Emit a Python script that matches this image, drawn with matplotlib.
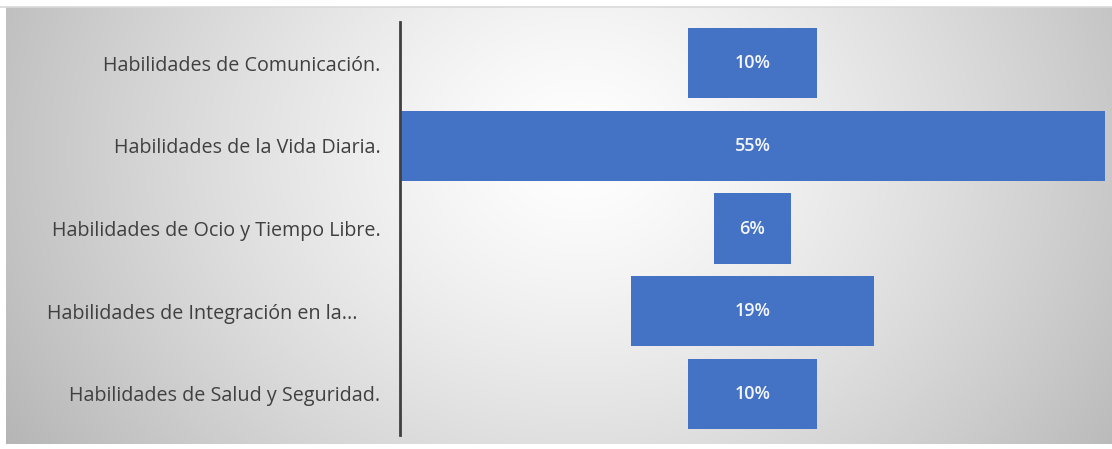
import numpy as np
import matplotlib
matplotlib.use("Agg")
import matplotlib.pyplot as plt
from matplotlib.transforms import ScaledTranslation

categories = ["Habilidades de Comunicación.",
              "Habilidades de la Vida Diaria.",
              "Habilidades de Ocio y Tiempo Libre.",
              "Habilidades de Integración en la...",
              "Habilidades de Salud y Seguridad."]
values = [10, 55, 6, 19, 10]
labels = ["10%", "55%", "6%", "19%", "10%"]

W, H = 1112, 449
fig = plt.figure(figsize=(W / 100, H / 100), dpi=100)
fig.patch.set_facecolor("white")

# background panel with radial gradient
bx0, bx1, by0, by1 = 6, 1112, 7, 444
bg = fig.add_axes([bx0 / W, 1 - by1 / H, (bx1 - bx0) / W, (by1 - by0) / H])
xx, yy = np.meshgrid(np.arange(bx0, bx1), np.arange(by0, by1))
r = np.sqrt(((xx - 580) / 620.0) ** 2 + ((yy - 150) / 520.0) ** 2)
g = 1.0 - 0.26 * np.clip(r, 0, 1.2) ** 1.3
img = np.dstack([g, g, g])
bg.imshow(img, aspect="auto", extent=[0, 1, 0, 1], interpolation="bilinear")
bg.set_axis_off()
fig.add_artist(plt.Line2D([0, 1], [1 - 6.5 / H, 1 - 6.5 / H], color="#d9d9d9", lw=1.2))

ax = fig.add_axes([400 / W, 1 - 435 / H, (1105 - 400) / W, (435 - 22) / H])
ax.patch.set_alpha(0)
pos = np.arange(len(categories))
lefts = [-v / 2 for v in values]
bars = ax.barh(pos, values, left=lefts, height=0.85, color="#4472C4")
for p, v, lab in zip(pos, values, labels):
    ax.text(0, p, lab, ha="center", va="center", color="#f4f6fb",
            fontsize=13, family="Open Sans", fontweight="semibold")
ax.set_xlim(-27.5, 27.5)
ax.set_ylim(4.5, -0.5)
ax.set_yticks(pos)
ax.set_yticklabels(categories, fontsize=14.2, family="Open Sans", color="#404040")
ax.tick_params(axis="y", length=0, pad=14)
ax.set_xticks([])
# truncated label sits a little further left in the original
tl = ax.get_yticklabels()[3]
tl.set_transform(tl.get_transform() + ScaledTranslation(-0.23, 0, fig.dpi_scale_trans))
for s in ["top", "right", "bottom"]:
    ax.spines[s].set_visible(False)
ax.spines["left"].set_color("#404040")
ax.spines["left"].set_linewidth(2)

fig.savefig("out.png", dpi=100)
